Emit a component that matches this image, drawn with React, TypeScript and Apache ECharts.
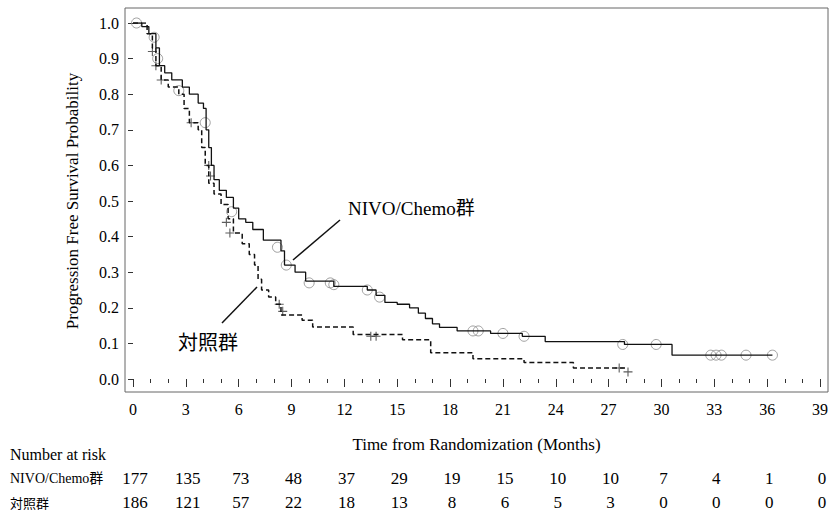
import React, { useEffect, useRef } from "react";
import * as echarts from "echarts";

const nivoCurve: [number, number][] = [
  [0, 1.0], [0.5, 0.99], [0.9, 0.97], [1.3, 0.93], [1.5, 0.88], [1.8, 0.86], [2.2, 0.84], [2.8, 0.82],
  [3.2, 0.80], [3.7, 0.775], [4.0, 0.76], [4.15, 0.70], [4.3, 0.65], [4.45, 0.60], [4.6, 0.56],
  [4.9, 0.53], [5.3, 0.51], [5.7, 0.48], [6.0, 0.45], [6.4, 0.44], [6.8, 0.42], [7.4, 0.39],
  [8.4, 0.36], [8.6, 0.32], [9.2, 0.30], [9.8, 0.275], [11.4, 0.26], [13.3, 0.25], [13.8, 0.235],
  [14.3, 0.215], [15.0, 0.21], [15.7, 0.20], [16.2, 0.185], [16.6, 0.17], [17.0, 0.155], [17.4, 0.145],
  [18.4, 0.135], [20.3, 0.128], [22.1, 0.12], [23.4, 0.105], [27.9, 0.097], [30.6, 0.067], [36.3, 0.067],
];
const ctrlCurve: [number, number][] = [
  [0, 1.0], [0.8, 0.97], [1.1, 0.93], [1.3, 0.88], [1.6, 0.84], [2.0, 0.82], [2.6, 0.80], [2.9, 0.76],
  [3.2, 0.72], [3.7, 0.70], [3.9, 0.65], [4.1, 0.60], [4.3, 0.55], [4.6, 0.52], [5.0, 0.49], [5.4, 0.45],
  [5.7, 0.41], [6.2, 0.38], [6.6, 0.35], [6.9, 0.32], [7.1, 0.28], [7.3, 0.25], [7.7, 0.23], [8.1, 0.21],
  [8.4, 0.18], [9.6, 0.165], [10.2, 0.146], [12.5, 0.125], [15.3, 0.11], [16.9, 0.074], [19.3, 0.057],
  [22.2, 0.046], [25.0, 0.031], [28.0, 0.031],
];
const nivoCensor: [number, number][] = [
  [0.2, 1.0], [1.2, 0.96], [1.4, 0.9], [2.6, 0.81], [4.1, 0.72], [5.6, 0.47], [8.2, 0.37], [8.7, 0.32],
  [10.0, 0.27], [11.2, 0.27], [11.4, 0.265], [13.3, 0.25], [14.0, 0.23], [19.3, 0.135], [19.6, 0.135],
  [21.0, 0.128], [22.2, 0.12], [27.8, 0.097], [29.7, 0.097], [32.8, 0.067], [33.1, 0.067], [33.4, 0.067],
  [34.8, 0.067], [36.3, 0.067],
];
const ctrlCensor: [number, number][] = [
  [1.1, 0.92], [1.3, 0.88], [1.6, 0.84], [3.3, 0.72], [4.3, 0.6], [4.4, 0.57], [5.3, 0.44], [5.5, 0.41],
  [8.3, 0.21], [8.5, 0.19], [13.5, 0.12], [13.8, 0.12], [27.6, 0.031], [28.1, 0.02],
];
const riskTimes = [0, 3, 6, 9, 12, 15, 18, 21, 24, 27, 30, 33, 36, 39];
const riskNivo = [177, 135, 73, 48, 37, 29, 19, 15, 10, 10, 7, 4, 1, 0];
const riskCtrl = [186, 121, 57, 22, 18, 13, 8, 6, 5, 3, 0, 0, 0, 0];

const FONT = "Liberation Serif";
const CJK = "Noto Sans CJK JP";

export default function App() {
  const ref = useRef<HTMLDivElement>(null);
  useEffect(() => {
    document.body.style.margin = "0";
    const chart = echarts.init(ref.current!, undefined, { renderer: "svg" });
    const plus = "path://M4.4,0H5.6V4.4H10V5.6H5.6V10H4.4V5.6H0V4.4H4.4Z";
    chart.setOption({
      animation: false,
      backgroundColor: "#fff",
      grid: { left: 133, right: 13, top: 23, bottom: 134 },
      xAxis: {
        type: "value", min: 0, max: 39, interval: 3, offset: 13,
        axisLine: { show: false },
        axisTick: { show: true, length: 8, lineStyle: { color: "#333" } },
        minorTick: { show: true, splitNumber: 3, length: 4, lineStyle: { color: "#333" } },
        splitLine: { show: false },
        axisLabel: { fontFamily: FONT, fontSize: 16, color: "#000", margin: 9 },
        name: "Time from Randomization (Months)", nameLocation: "middle", nameGap: 44,
        nameTextStyle: { fontFamily: FONT, fontSize: 17, color: "#000" },
      },
      yAxis: {
        type: "value", min: 0, max: 1, interval: 0.1, offset: 8,
        axisLine: { show: false },
        axisTick: { show: true, length: 5, lineStyle: { color: "#333" } },
        splitLine: { show: false },
        axisLabel: { fontFamily: FONT, fontSize: 16, color: "#000", margin: 6, formatter: (v: number) => v.toFixed(1) },
        name: "Progression Free Survival Probability", nameLocation: "middle", nameGap: 44,
        nameTextStyle: { fontFamily: FONT, fontSize: 17, color: "#000" },
      },
      series: [
        { type: "line", step: "end", data: nivoCurve, showSymbol: false, lineStyle: { color: "#111", width: 1.3 } },
        { type: "line", step: "end", data: ctrlCurve, showSymbol: false, lineStyle: { color: "#111", width: 1.5, type: [5, 3] } },
        { type: "scatter", data: nivoCensor, symbol: "circle", symbolSize: 10, itemStyle: { color: "none", borderColor: "#888", borderWidth: 1 } },
        { type: "scatter", data: ctrlCensor, symbol: plus, symbolSize: 9, itemStyle: { color: "#333" } },
      ],
    });
    const g: any[] = [
      { type: "rect", shape: { x: 125, y: 8, width: 703, height: 384 }, style: { fill: "none", stroke: "#666", lineWidth: 1 } },
      { type: "line", shape: { x1: 293, y1: 260, x2: 340, y2: 220 }, style: { stroke: "#111", lineWidth: 1.5 } },
      { type: "line", shape: { x1: 222, y1: 323, x2: 257, y2: 287 }, style: { stroke: "#111", lineWidth: 1.5 } },
      { type: "text", x: 348, y: 208, style: { text: "NIVO/Chemo群", font: `19px '${FONT}', '${CJK}'`, fill: "#000", textVerticalAlign: "middle" } },
      { type: "text", x: 178, y: 341, style: { text: "対照群", font: `20px '${CJK}'`, fill: "#000", textVerticalAlign: "middle" } },
      { type: "text", x: 10, y: 454, style: { text: "Number at risk", font: `16px '${FONT}'`, fill: "#000", textVerticalAlign: "middle" } },
      { type: "text", x: 10, y: 478, style: { text: "NIVO/Chemo群", font: `14px '${FONT}', '${CJK}'`, fill: "#000", textVerticalAlign: "middle" } },
      { type: "text", x: 10, y: 502, style: { text: "対照群", font: `13px '${CJK}'`, fill: "#000", textVerticalAlign: "middle" } },
    ];
    riskTimes.forEach((t, i) => {
      const [px] = chart.convertToPixel({ gridIndex: 0 }, [t, 0]) as number[];
      g.push({ type: "text", x: px + 2, y: 478, style: { text: String(riskNivo[i]), font: `17px '${FONT}'`, fill: "#000", textAlign: "center", textVerticalAlign: "middle" } });
      g.push({ type: "text", x: px + 2, y: 502, style: { text: String(riskCtrl[i]), font: `17px '${FONT}'`, fill: "#000", textAlign: "center", textVerticalAlign: "middle" } });
    });
    chart.setOption({ graphic: g });
    return () => chart.dispose();
  }, []);
  return <div ref={ref} style={{ width: 833, height: 513 }} />;
}
